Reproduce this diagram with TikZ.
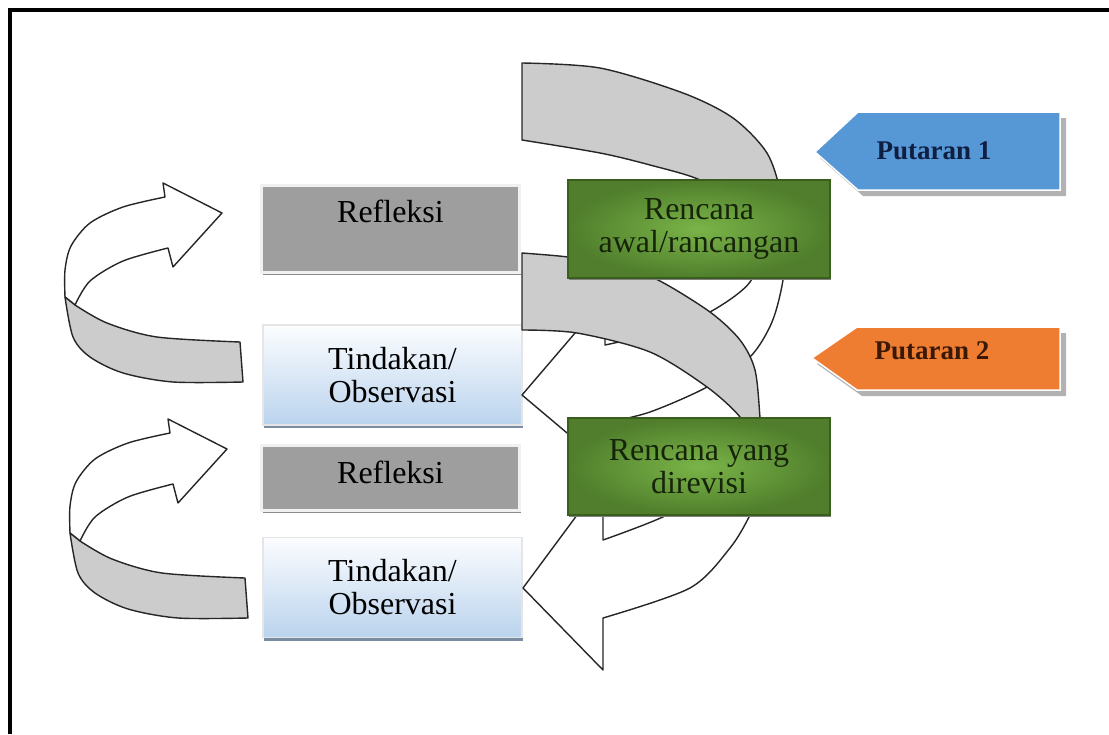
\documentclass[tikz,border=0pt]{standalone}
\usepackage{fontspec}
\setmainfont{Liberation Serif}
\usetikzlibrary{shadows}
\definecolor{bandgray}{RGB}{204,204,204}
\definecolor{reflgray}{RGB}{158,158,158}
\definecolor{tindtop}{RGB}{252,253,255}
\definecolor{tindbot}{RGB}{186,211,237}
\definecolor{tindshade}{RGB}{122,140,162}
\definecolor{planin}{RGB}{122,180,72}
\definecolor{planout}{RGB}{80,126,44}
\definecolor{planedge}{RGB}{58,95,28}
\definecolor{plantext}{RGB}{22,36,10}
\definecolor{putblue}{RGB}{86,152,214}
\definecolor{putorange}{RGB}{238,125,50}
\definecolor{putnavy}{RGB}{16,30,66}
\definecolor{putbrown}{RGB}{58,24,6}
\begin{document}
\begin{tikzpicture}[x=1pt,y=-1pt,
  bandline/.style={draw=black!85,line width=1.4pt,line join=round},
  boxfont/.style={font=\fontsize{32}{33}\selectfont},
  refl/.style={boxfont,draw=black!6,line width=3pt,fill=reflgray,minimum width=258pt,inner sep=0pt,
    drop shadow={shadow xshift=1pt,shadow yshift=-3pt,fill=black!45,opacity=1}},
  tind/.style={boxfont,align=center,draw=black!10,line width=1.5pt,top color=tindtop,bottom color=tindbot,
    minimum width=259pt,minimum height=100pt,inner sep=0pt,
    drop shadow={shadow xshift=1pt,shadow yshift=-3pt,fill=tindshade,opacity=1}},
  plan/.style={boxfont,align=center,text=plantext,draw=planedge,line width=1.2pt,inner color=planin,outer color=planout,
    minimum width=262pt,minimum height=97pt,inner sep=0pt,
    drop shadow={shadow xshift=1pt,shadow yshift=-2pt,fill=black!50,opacity=1}},
  puttext/.style={font=\fontsize{27}{28}\selectfont\bfseries}]
\useasboundingbox (0,0) rectangle (1109,734);
\draw[line width=4pt] (10,734) -- (10,10) -- (1109,10);

% left arrows
\draw[bandline,fill=white] (65,297) -- plot[smooth] coordinates {(65,297) (65,270) (71,246) (90,223) (123,207) (165,197)}
  -- (163,183) -- (222,213) -- (173,267) -- (168,248)
  -- plot[smooth] coordinates {(168,248) (123,261) (90,281) (75,305)} -- cycle;
\draw[bandline,fill=bandgray] (75,305) -- plot[smooth] coordinates {(75,305) (107,323) (157,337) (240,342)}
  -- (243,382) -- plot[smooth] coordinates {(243,382) (173,382) (123,373) (90,357) (73,337) (65,297)} -- cycle;
\begin{scope}[shift={(5,236)}]
\draw[bandline,fill=white] (65,297) -- plot[smooth] coordinates {(65,297) (65,270) (71,246) (90,223) (123,207) (165,197)}
  -- (163,183) -- (222,213) -- (173,267) -- (168,248)
  -- plot[smooth] coordinates {(168,248) (123,261) (90,281) (75,305)} -- cycle;
\draw[bandline,fill=bandgray] (75,305) -- plot[smooth] coordinates {(75,305) (107,323) (157,337) (240,342)}
  -- (243,382) -- plot[smooth] coordinates {(243,382) (173,382) (123,373) (90,357) (73,337) (65,297)} -- cycle;
\end{scope}

\node[refl,minimum height=87pt,text depth=35pt] (refl1) at (390.5,228.5) {Refleksi};
\node[tind] (tind1) at (392.5,375) {Tindakan/\\Observasi};
\node[refl,minimum height=65pt,text depth=11pt] (refl2) at (390.5,477.5) {Refleksi};
\node[tind] (tind2) at (392.5,587.5) {Tindakan/\\Observasi};

% right arrows
\draw[bandline,fill=bandgray] (522,140) -- (522,63)
  -- plot[smooth] coordinates {(522,63) (600,68) (683,93) (733,118) (767,153) (781,195) (785,240)}
  -- (760,240) -- plot[smooth] coordinates {(760,240) (735,205) (700,180) (650,165) (600,153) (522,140)} -- cycle;
\draw[bandline,fill=white] (785,240)
  -- plot[smooth] coordinates {(785,240) (783,280) (772,322) (750,357) (707,387) (650,412) (605,423)}
  -- (605,465) -- (522,395) -- (605,298) -- (605,345)
  -- plot[smooth] coordinates {(605,345) (660,332) (710,312) (750,282) (762,240)} -- cycle;
\draw[bandline,fill=bandgray] (522,330) -- (522,253)
  -- plot[smooth] coordinates {(522,253) (568,257) (615,265) (658,280) (710,312) (740,340) (755,370) (760,418) (762,460)}
  -- (745,460) -- plot[smooth] coordinates {(745,460) (744,435) (740,417) (707,387) (650,352) (577,333) (522,330)} -- cycle;
\draw[bandline,fill=white] (762,460)
  -- plot[smooth] coordinates {(762,460) (758,492) (750,515) (730,548) (690,588) (603,618)}
  -- (603,670) -- (523,588) -- (603,480) -- (603,540)
  -- plot[smooth] coordinates {(603,540) (667,515) (722,480) (745,460)} -- cycle;

\node[plan,minimum height=98pt] (plan1) at (699,229) {Rencana\\awal/rancangan};
\node[plan] (plan2) at (699,466.5) {Rencana yang\\direvisi};

% putaran
\fill[black!30] (820,158) -- (863,118) -- (1066,118) -- (1066,196) -- (863,196) -- cycle;
\filldraw[fill=putblue,draw=white,line width=1.5pt] (815,152) -- (858,112) -- (1060,112) -- (1060,190) -- (858,190) -- cycle;
\node[puttext,text=putnavy] (put1) at (934,151) {Putaran 1};
\fill[black!30] (817,364) -- (862,333) -- (1066,333) -- (1066,396) -- (862,396) -- cycle;
\filldraw[fill=putorange,draw=white,line width=1.5pt] (812,358) -- (857,327) -- (1060,327) -- (1060,390) -- (857,390) -- cycle;
\node[puttext,text=putbrown] (put2) at (932,351) {Putaran 2};
\end{tikzpicture}
\end{document}
